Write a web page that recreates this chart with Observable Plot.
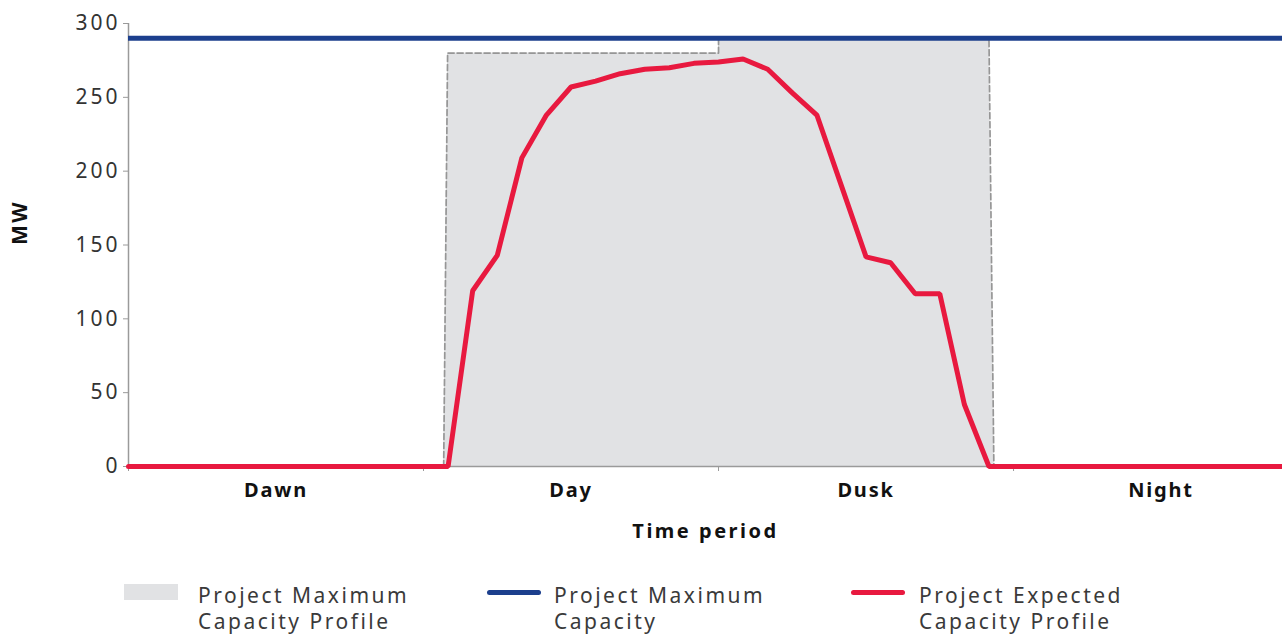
<!DOCTYPE html>
<html>
<head>
<meta charset="utf-8">
<script src="https://cdn.jsdelivr.net/npm/d3@7"></script>
<script src="https://cdn.jsdelivr.net/npm/@observablehq/plot@0.6"></script>
<style>
  body { margin: 0; background: #fff; font-family: "Noto Sans", sans-serif; }
  #wrap { position: relative; width: 1282px; height: 634px; overflow: hidden; }
  #legend { position: absolute; left: 0; top: 560px; width: 1282px; height: 74px; }
  .txt { position: absolute; font-size: 21px; line-height: 24px; height: 24px; color: #3a3a3a; white-space: nowrap; letter-spacing: 2.5px; }
  .sw { position: absolute; }
  g[aria-label="y-axis tick label"] { letter-spacing: 3px; }
  g[aria-label="x-axis tick label"] { letter-spacing: 1.8px; }
  g[aria-label="text"] { letter-spacing: 2.5px; }
</style>
</head>
<body>
<div id="wrap"><div id="chart"></div><div id="legend"></div></div>
<script>
// ---- data ----
const periods = ["Dawn", "Day", "Dusk", "Night"];
const periodStart = [0, 6, 12, 18];
const periodMid = [3, 9, 15, 21];
const hours = [0,0.5,1,1.5,2,2.5,3,3.5,4,4.5,5,5.5,6,6.5,7,7.5,8,8.5,9,9.5,10,10.5,11,11.5,
               12,12.5,13,13.5,14,14.5,15,15.5,16,16.5,17,17.5,18,18.5,19,19.5,20,20.5,21,21.5,22,22.5,23,23.5];
const expected = [0,0,0,0,0,0,0,0,0,0,0,0,0,0,119,143,209,238,257,261,266,269,270,273,
                  274,276,269,253,238,190,142,138,117,117,42,0,0,0,0,0,0,0,0,0,0,0,0,0];
const profileHours = [6.41, 6.49, 12, 12, 17.5, 17.6];
const profileMW = [0, 280, 280, 290, 290, 0];
const maxCapacity = 290;
const yTicks = [0, 50, 100, 150, 200, 250, 300];
const legendLabels = [["Project Maximum", "Capacity Profile"], ["Project Maximum", "Capacity"], ["Project Expected", "Capacity Profile"]];

const profile = profileHours.map((h, i) => ({h, mw: profileMW[i]}));
const series = hours.map((h, i) => ({h, mw: expected[i]}));

const RED = "#e8193f", BLUE = "#1c3f8d", GREYFILL = "#e1e2e4";

const chart = Plot.plot({
  width: 1282, height: 560,
  marginLeft: 128, marginRight: 0, marginTop: 23, marginBottom: 94,
  style: { fontFamily: "'Noto Sans', sans-serif", background: "#fff", overflow: "visible" },
  x: { domain: [0, 23.47] },
  y: { domain: [0, 300] },
  marks: [
    Plot.area(profile, { x1: "h", y1: "mw", y2: 0, fill: GREYFILL }),
    Plot.line(profile, { x: "h", y: "mw", stroke: "#969696", strokeWidth: 1.7, strokeDasharray: "6,3" }),
    Plot.ruleY([0], { stroke: "#9a9a9a", strokeWidth: 1.5 }),
    Plot.ruleX([0], { stroke: "#9a9a9a", strokeWidth: 1.5 }),
    Plot.axisY({ ticks: yTicks, tickSize: 5, stroke: "#9a9a9a", text: null, label: null }),
    Plot.axisY({ ticks: yTicks, tickSize: 0, tickPadding: 8, fill: "#333", fontSize: 21, label: null, tickFormat: d => d }),
    Plot.axisX({ ticks: periodStart, tickSize: 5, stroke: "#9a9a9a", text: null, label: null }),
    Plot.axisX({ ticks: periodMid, tickSize: 0, tickPadding: 16, fill: "#111", fontSize: 20, fontWeight: "bold", label: null,
                 tickFormat: d => periods[periodMid.indexOf(d)] }),
    Plot.ruleY([maxCapacity], { stroke: BLUE, strokeWidth: 5 }),
    Plot.line(series, { x: "h", y: "mw", stroke: RED, strokeWidth: 5, strokeLinejoin: "miter" }),
    Plot.text(["Time period"], { frameAnchor: "bottom", lineAnchor: "middle", dy: 65, fontSize: 20, fontWeight: "bold", fill: "#111" }),
    Plot.text(["MW"], { frameAnchor: "left", dx: -108, rotate: -90, fontSize: 21, fontWeight: "bold", fill: "#111" })
  ]
});
document.getElementById("chart").appendChild(chart);

// ---- legend ----
const legend = document.getElementById("legend");
const items = [
  { sw: `<div class="sw" style="left:124px;top:24px;width:54px;height:16px;background:${GREYFILL}"></div>`, tx: 198 },
  { sw: `<div class="sw" style="left:487px;top:30px;width:54px;height:5px;border-radius:3px;background:${BLUE}"></div>`, tx: 554 },
  { sw: `<div class="sw" style="left:851px;top:30px;width:54px;height:5px;border-radius:3px;background:${RED}"></div>`, tx: 919 }
];
items.forEach((it, i) => {
  legend.insertAdjacentHTML("beforeend", it.sw +
    `<div class="txt" style="left:${it.tx}px;top:23px">${legendLabels[i][0]}</div>` +
    `<div class="txt" style="left:${it.tx}px;top:49px">${legendLabels[i][1]}</div>`);
});
</script>
</body>
</html>
